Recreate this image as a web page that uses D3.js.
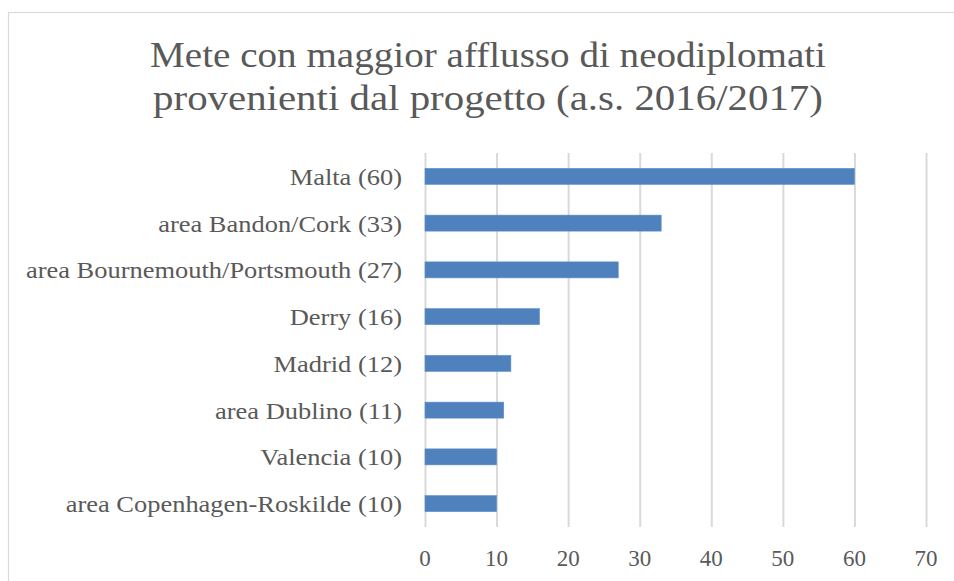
<!DOCTYPE html>
<html>
<head>
<meta charset="utf-8">
<script src="https://cdn.jsdelivr.net/npm/d3@7"></script>
<style>
  html, body { margin: 0; padding: 0; background: #fff; }
  svg { display: block; }
  text { font-family: "Liberation Serif", "DejaVu Serif", serif; fill: #595959; }
</style>
</head>
<body>
<svg id="chart" width="954" height="581"></svg>
<script>
const titleLines = ["Mete con maggior afflusso di neodiplomati", "provenienti dal progetto (a.s. 2016/2017)"];
const categories = [
  "Malta (60)",
  "area Bandon/Cork (33)",
  "area Bournemouth/Portsmouth (27)",
  "Derry (16)",
  "Madrid (12)",
  "area Dublino (11)",
  "Valencia (10)",
  "area Copenhagen-Roskilde (10)"
];
const values = [60, 33, 27, 16, 12, 11, 10, 10];
const xTicks = [0, 10, 20, 30, 40, 50, 60, 70];

const W = 954, H = 581;
const svg = d3.select("#chart");

// outer chart frame
svg.append("rect")
  .attr("x", 8.5).attr("y", 12.5)
  .attr("width", W + 10).attr("height", H + 10)
  .attr("fill", "#fff").attr("stroke", "#d9d9d9").attr("stroke-width", 1.2);

const plot = { left: 425, right: 926, top: 153, bottom: 527 };

const x = d3.scaleLinear().domain([0, 70]).range([plot.left, plot.right]);
const y = d3.scaleBand().domain(categories).range([plot.top, plot.bottom])
  .paddingInner(0.658).paddingOuter(0.329);

// gridlines via axis
const grid = svg.append("g")
  .attr("transform", `translate(0,${plot.bottom})`)
  .call(d3.axisBottom(x).tickValues(xTicks).tickSize(-(plot.bottom - plot.top)).tickFormat(""));
grid.select(".domain").remove();
grid.selectAll(".tick line").attr("stroke", "#d9d9d9").attr("stroke-width", 2);

// bars
svg.append("g").selectAll("rect")
  .data(values)
  .join("rect")
  .attr("x", x(0))
  .attr("y", (d, i) => y(categories[i]))
  .attr("width", d => x(d) - x(0))
  .attr("height", y.bandwidth())
  .attr("fill", "#4F81BD")
  .attr("stroke", "#5b8dc8").attr("stroke-width", 0.6);

// helper to draw horizontally-scaled text
function scaledText(g, str, tx, ty, size, anchor, sx) {
  const t = g.append("text")
    .attr("transform", `translate(${tx},${ty}) scale(${sx},1)`)
    .attr("font-size", size)
    .attr("text-anchor", anchor)
    .text(str);
  return t;
}
function measure(str, size) {
  const t = svg.append("text").attr("font-size", size).text(str);
  const w = t.node().getComputedTextLength();
  t.remove();
  return w;
}

// category labels
const labelSize = 24;
const labelScale = 376 / measure(categories[2], labelSize);
const lg = svg.append("g");
categories.forEach(c => {
  scaledText(lg, c, 402, y(c) + y.bandwidth() / 2 + 8.5, labelSize, "end", labelScale);
});

// tick labels
const tickSize = 24;
const tickScale = 23 / measure("10", tickSize);
const tg = svg.append("g");
xTicks.forEach(v => {
  scaledText(tg, String(v), x(v), 566, tickSize, "middle", tickScale);
});

// title
const titleSize = 35;
const titleTargets = [676, 670];
const titleY = [67, 110];
const ttg = svg.append("g");
titleLines.forEach((s, i) => {
  const sc = titleTargets[i] / measure(s, titleSize);
  scaledText(ttg, s, 488, titleY[i], titleSize, "middle", sc);
});
</script>
</body>
</html>
